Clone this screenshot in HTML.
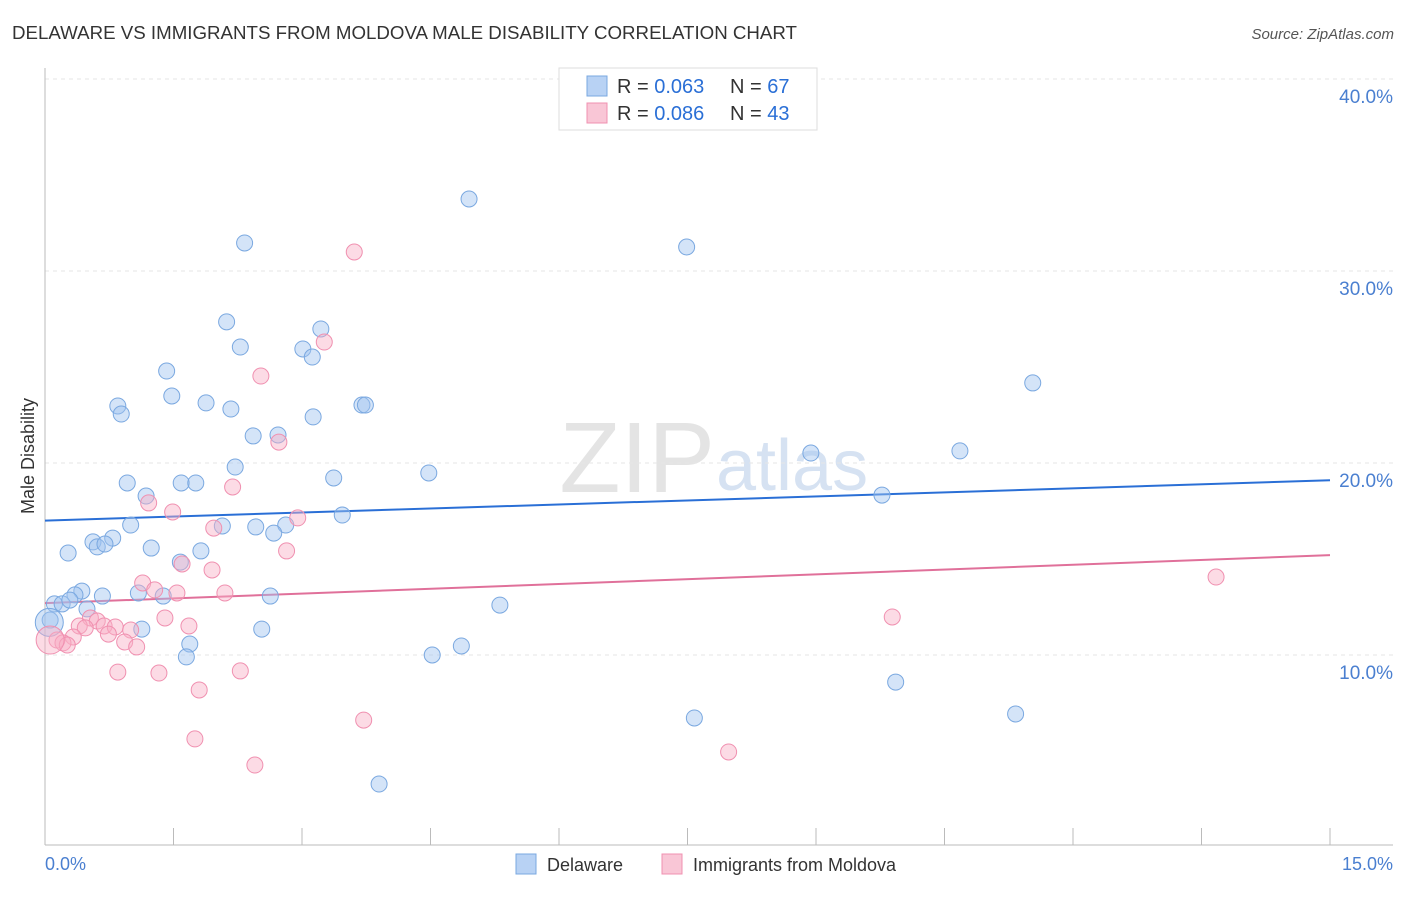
<!DOCTYPE html>
<html><head><meta charset="utf-8"><style>
body{margin:0;background:#fff;font-family:"Liberation Sans",sans-serif;}
svg text{font-family:"Liberation Sans",sans-serif;}
</style></head><body>
<svg id="chart" width="1406" height="892" xmlns="http://www.w3.org/2000/svg">
<text x="12" y="39" font-size="18" fill="#333" textLength="785" lengthAdjust="spacingAndGlyphs">DELAWARE VS IMMIGRANTS FROM MOLDOVA MALE DISABILITY CORRELATION CHART</text>
<text x="1394" y="39" font-size="15" fill="#555" text-anchor="end" font-style="italic">Source: ZipAtlas.com</text>
<text x="715" y="492" font-size="100" fill="#e4e4e4" text-anchor="end" font-family="Liberation Serif">ZIP</text>
<text x="716" y="490" font-size="72" fill="#d6e2f2">atlas</text>
<g id="grid"></g>
<g id="axes"></g>
<g id="trends"></g>
<g id="points"></g>
<text transform="translate(34,456) rotate(-90)" font-size="18" fill="#333" text-anchor="middle">Male Disability</text>
<text x="45" y="870" font-size="18" fill="#4a7fd0">0.0%</text>
<text x="1393" y="870" font-size="18" fill="#4a7fd0" text-anchor="end">15.0%</text>
<g>
<rect x="559" y="68" width="258" height="62" fill="#fff" stroke="#ddd"/>
<rect x="587" y="76" width="20" height="20" fill="#b8d2f4" stroke="#7aa8e0"/>
<rect x="587" y="103" width="20" height="20" fill="#f9c6d6" stroke="#f090b0"/>
<text x="617" y="93" font-size="20" fill="#333">R = <tspan fill="#2a6fd6">0.063</tspan></text>
<text x="730" y="93" font-size="20" fill="#333">N = <tspan fill="#2a6fd6">67</tspan></text>
<text x="617" y="120" font-size="20" fill="#333">R = <tspan fill="#2a6fd6">0.086</tspan></text>
<text x="730" y="120" font-size="20" fill="#333">N = <tspan fill="#2a6fd6">43</tspan></text>
</g>
<g>
<rect x="516" y="854" width="20" height="20" fill="#b8d2f4" stroke="#7aa8e0"/>
<text x="547" y="871" font-size="18" fill="#333">Delaware</text>
<rect x="662" y="854" width="20" height="20" fill="#f9c6d6" stroke="#f090b0"/>
<text x="693" y="871" font-size="18" fill="#333">Immigrants from Moldova</text>
</g>
</svg>
<script>
const yTicks=[10,20,30,40];
const yTickLabels=["10.0%","20.0%","30.0%","40.0%"];
const xTicks=[0,1.5,3,4.5,6,7.5,9,10.5,12,13.5,15];
const blueX=[4.95,2.33,7.49,2.12,3.22,2.28,3.01,3.12,1.42,11.53,1.48,0.85,1.88,2.17,3.70,3.74,0.89,3.13,2.43,2.72,10.68,8.94,2.22,4.48,3.37,0.96,1.59,1.76,1.18,9.77,3.47,1.00,2.07,2.46,2.81,2.67,0.79,0.56,0.61,0.70,1.24,0.27,1.82,1.58,0.43,0.35,0.67,1.09,1.38,2.63,0.11,0.20,0.29,0.49,5.31,0.06,1.13,2.53,1.69,1.65,4.86,4.52,9.93,7.58,11.33,3.90,0.05];
const blueY=[33.75,31.46,31.25,27.35,26.98,26.04,25.94,25.52,24.79,24.17,23.49,22.97,23.13,22.81,23.02,23.02,22.55,22.40,21.41,21.46,20.63,20.52,19.79,19.48,19.22,18.96,18.96,18.96,18.28,18.33,17.29,16.77,16.72,16.67,16.77,16.35,16.09,15.89,15.63,15.78,15.57,15.31,15.42,14.84,13.33,13.13,13.07,13.23,13.07,13.07,12.66,12.66,12.86,12.40,12.60,11.82,11.35,11.35,10.57,9.90,10.47,10.0,8.59,6.72,6.93,3.28,11.7];
const pinkX=[3.61,3.26,2.52,2.73,2.19,1.21,1.49,1.97,2.95,2.82,1.60,1.95,1.14,1.28,1.54,2.10,13.67,0.53,0.61,0.40,0.47,0.69,0.82,1.00,1.40,1.68,9.89,0.74,0.33,0.93,1.07,0.14,0.21,0.26,0.06,0.85,1.33,2.28,1.80,3.72,1.75,7.98,2.45];
const pinkY=[30.99,26.30,24.53,21.09,18.75,17.92,17.45,16.61,17.14,15.42,14.74,14.43,13.75,13.39,13.23,13.23,14.06,11.93,11.77,11.51,11.41,11.51,11.46,11.30,11.93,11.51,11.98,11.09,10.94,10.68,10.42,10.78,10.63,10.52,10.78,9.11,9.06,9.17,8.18,6.61,5.63,4.95,4.27];
const blueTrend=[17.0,19.1];
const pinkTrend=[12.7,15.2];
const NS="http://www.w3.org/2000/svg";
const sx=v=>45+v/15*1285;
const sy=v=>847-v*19.2;
function mk(tag,attrs,parent){const e=document.createElementNS(NS,tag);for(const k in attrs)e.setAttribute(k,attrs[k]);document.getElementById(parent).appendChild(e);return e;}
yTicks.forEach((t,i)=>{
 const l=mk('line',{x1:45,x2:1393,y1:sy(t),y2:sy(t),stroke:'#e6e6e6','stroke-dasharray':'4,4'},'grid');
 
 
 const tx=mk('text',{x:1393,y:sy(t)+24,'font-size':19,fill:'#4a7fd0','text-anchor':'end'},'grid');
 tx.textContent=yTickLabels[i];
 
 
});
const ax=mk('line',{x1:45,x2:45,y1:68,y2:845,stroke:'#bbb'},'axes');


const bx=mk('line',{x1:45,x2:1393,y1:845,y2:845,stroke:'#bbb'},'axes');


xTicks.forEach(t=>{
 const l=mk('line',{x1:sx(t),x2:sx(t),y1:828,y2:845,stroke:'#bbb'},'axes');
 
 
});
function pts(X,Y,fill,stroke,name){X.forEach((x,i)=>{
 const big=(i===X.length-1&&name==='delaware-point')||(name==='moldova-point'&&i===34);
 const c=mk('circle',{cx:sx(x),cy:sy(Y[i]),r:big?14:8,fill:fill,stroke:stroke,'stroke-width':1},'points');
 
 
});}
pts(blueX,blueY,'rgba(160,196,240,0.45)','#7aa8e0','delaware-point');
pts(pinkX,pinkY,'rgba(248,175,198,0.45)','#f090b0','moldova-point');
const bt=mk('line',{x1:sx(0),x2:sx(15),y1:sy(blueTrend[0]),y2:sy(blueTrend[1]),stroke:'#2a6fd6','stroke-width':2},'trends');


const pt=mk('line',{x1:sx(0),x2:sx(15),y1:sy(pinkTrend[0]),y2:sy(pinkTrend[1]),stroke:'#e0709a','stroke-width':2},'trends');


</script>
</body></html>
